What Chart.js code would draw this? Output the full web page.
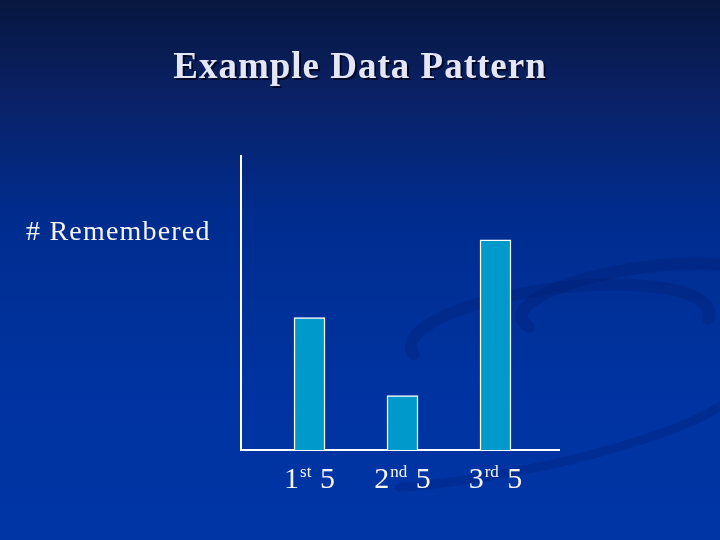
<!DOCTYPE html>
<html>
<head>
<meta charset="utf-8">
<script src="https://cdn.jsdelivr.net/npm/chart.js@4"></script>
<style>
  html, body { margin: 0; padding: 0; }
  body {
    width: 720px; height: 540px; overflow: hidden;
    background: linear-gradient(to bottom, #07173f 0%, #0a2166 18%, #002c8e 40%, #0033a0 70%, #0035a6 100%);
  }
  #wrap { position: absolute; left: 0; top: 0; width: 720px; height: 540px; }
</style>
</head>
<body>
<div id="wrap"><canvas id="c" width="720" height="540"></canvas></div>
<script>
const titleText = "Example Data Pattern";
const yLabel = "# Remembered";
const categoryNumbers = ["1", "2", "3"];
const categorySuffixes = ["st", "nd", "rd"];
const categoryTail = " 5";
const categoryPositions = [1, 2, 3];
const rememberedValues = [4.5, 1.85, 7.15];
const yMax = 10;

const dataPoints = categoryPositions.map((x, i) => ({ x: x, y: rememberedValues[i] }));

const decor = {
  id: 'decor',
  beforeDraw(chart) {
    const ctx = chart.ctx;
    ctx.save();
    ctx.strokeStyle = 'rgba(0,20,90,0.2)';
    ctx.lineCap = 'round';
    ctx.lineWidth = 12;
    ctx.beginPath();
    ctx.ellipse(560, 330, 150, 42, -0.12, Math.PI * 0.95, Math.PI * 2.05);
    ctx.stroke();
    ctx.beginPath();
    ctx.ellipse(640, 300, 120, 32, -0.15, Math.PI * 0.9, Math.PI * 2.0);
    ctx.stroke();
    ctx.lineWidth = 9;
    ctx.beginPath();
    ctx.ellipse(520, 430, 220, 40, -0.2, Math.PI * 0.05, Math.PI * 0.7);
    ctx.stroke();
    ctx.restore();
  }
};

const texts = {
  id: 'texts',
  afterDraw(chart) {
    const ctx = chart.ctx;
    const xs = chart.scales.x;
    const area = chart.chartArea;
    ctx.save();
    // title
    ctx.font = 'bold 37px "Liberation Serif", serif';
    ctx.letterSpacing = '1px';
    ctx.textAlign = 'center';
    ctx.textBaseline = 'alphabetic';
    ctx.fillStyle = 'rgba(0,0,20,0.7)';
    ctx.fillText(titleText, 362, 80);
    ctx.fillStyle = '#e4e6f6';
    ctx.fillText(titleText, 360, 78);
    // y label
    ctx.font = '28px "Liberation Serif", serif';
    ctx.letterSpacing = '1.2px';
    ctx.textAlign = 'left';
    ctx.fillStyle = '#f4f4f4';
    ctx.fillText(yLabel, 26, 240);
    ctx.letterSpacing = '0px';
    // x labels with superscripts
    const mainFont = '30px "Liberation Serif", serif';
    const supFont = '17px "Liberation Serif", serif';
    categoryPositions.forEach((p, i) => {
      const cx = xs.getPixelForValue(p);
      ctx.font = mainFont;
      const w1 = ctx.measureText(categoryNumbers[i]).width;
      const w3 = ctx.measureText(categoryTail).width;
      ctx.font = supFont;
      const w2 = ctx.measureText(categorySuffixes[i]).width + 2;
      const total = w1 + w2 + w3;
      let x = cx - total / 2;
      const base = area.bottom + 38;
      ctx.fillStyle = '#f4f4f4';
      ctx.font = mainFont;
      ctx.fillText(categoryNumbers[i], x, base);
      x += w1 + 1;
      ctx.font = supFont;
      ctx.fillText(categorySuffixes[i], x, base - 11);
      x += w2 - 1;
      ctx.font = mainFont;
      ctx.fillText(categoryTail, x, base);
    });
    ctx.restore();
  }
};

new Chart(document.getElementById('c'), {
  type: 'bar',
  data: {
    datasets: [{
      data: dataPoints,
      backgroundColor: '#0099cc',
      borderColor: '#ffffff',
      borderWidth: 1.5,
      borderSkipped: 'bottom',
      barThickness: 31
    }]
  },
  options: {
    responsive: false,
    animation: false,
    events: [],
    layout: { padding: { left: 241, right: 161, top: 156, bottom: 90 } },
    plugins: { legend: { display: false }, tooltip: { enabled: false }, title: { display: false } },
    scales: {
      x: {
        type: 'linear',
        offset: false,
        min: 0.263,
        max: 3.683,
        grid: { display: false, drawTicks: false, offset: false },
        border: { display: true, color: '#ffffff', width: 2 },
        ticks: { display: false }
      },
      y: {
        min: 0,
        max: yMax,
        grid: { display: false, drawTicks: false },
        border: { display: true, color: '#ffffff', width: 2 },
        ticks: { display: false }
      }
    }
  },
  plugins: [decor, texts]
});
</script>
</body>
</html>
